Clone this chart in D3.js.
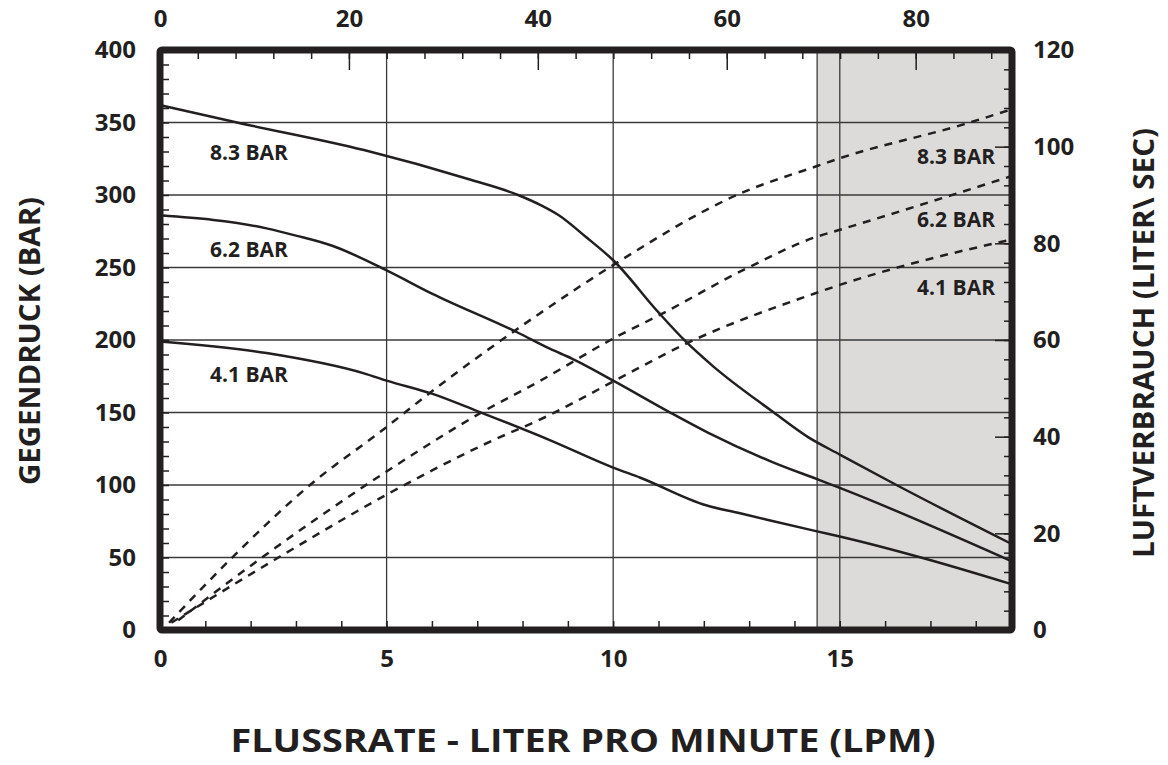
<!DOCTYPE html>
<html>
<head>
<meta charset="utf-8">
<script src="https://cdn.jsdelivr.net/npm/d3@7"></script>
<style>
  body { margin: 0; background: #fff; }
  text { font-family: "Open Sans", sans-serif; font-weight: bold; fill: #231f20; }
</style>
</head>
<body>
<script>
// Gegendruck (bar) over Flussrate (LPM)
const flow83 = [0, 1.7, 4.5, 6.8, 7.9, 8.4, 8.8, 9.4, 10, 11, 11.6, 12.2, 13.5, 14.3, 15, 16.25, 18.75];
const druck83 = [362, 350, 331, 311, 300, 293, 286, 271, 255, 219, 199, 182, 151, 133, 121, 100, 60];
const flow62 = [0, 2.35, 3.0, 3.8, 5.0, 6.0, 7.9, 8.6, 9.1, 10, 11.2, 12.1, 13.5, 14.5, 15, 18.75];
const druck62 = [286, 277, 272, 265, 248, 232, 205, 194, 187, 172, 151, 136, 116, 104, 98, 48];
const flow41 = [0, 2.35, 4.5, 5.0, 6.0, 7.0, 8.6, 10, 10.6, 12.05, 12.8, 14.5, 15, 16.85, 18.75];
const druck41 = [199, 191, 177, 172, 163, 151, 131, 112, 105, 86, 80.5, 68, 64.5, 49.5, 32];

// Luftverbrauch over Flussrate (LPM)
const airFlow83 = [0.2, 1.54, 3.31, 5.0, 5.74, 8.38, 10, 12.8, 14.5, 15, 17.8, 18.75];
const luft83 = [1.5, 14.5, 30, 42, 47.5, 65.5, 75.5, 90.3, 96, 97.6, 104.8, 107.6];
const airFlow62 = [0.4, 2.28, 5.0, 7.13, 8.38, 10, 11.03, 12.94, 14.5, 15, 18.75];
const luft62 = [2, 15.2, 32.8, 45.2, 51.5, 60.3, 65.2, 74.8, 81.4, 82.8, 93.8];
const airFlow41 = [0.25, 2.65, 5.0, 7.13, 8.6, 10, 11.62, 14.5, 15, 16.47, 18.75];
const luft41 = [1.5, 15.2, 28, 38.3, 44.5, 51.4, 59.3, 69.8, 71.4, 75.5, 80.7];

const seriesNames = ["8.3 BAR", "6.2 BAR", "4.1 BAR"];
const bottomTicks = [0, 5, 10, 15];
const topTicks = [0, 20, 40, 60, 80];
const leftTicks = [0, 50, 100, 150, 200, 250, 300, 350, 400];
const rightTicks = [0, 20, 40, 60, 80, 100, 120];
const shadeFrom = 14.5;

// plot frame
const pL = 160, pR = 1012, pT = 50, pB = 630;

const x = d3.scaleLinear().domain([0, 18.8]).range([pL, pR]);
const xTop = d3.scaleLinear().domain([0, 90.2]).range([pL, pR]);
const yL = d3.scaleLinear().domain([0, 400]).range([pB, pT]);
const yR = d3.scaleLinear().domain([0, 120]).range([pB, pT]);

const ink = "#231f20";

const svg = d3.select("body").append("svg")
    .attr("width", 1168)
    .attr("height", 765);

// shaded region
svg.append("rect")
    .attr("x", x(shadeFrom)).attr("y", pT)
    .attr("width", pR - x(shadeFrom)).attr("height", pB - pT)
    .attr("fill", "#dcdbda");

// grid
const grid = svg.append("g").attr("stroke", "#3a3a3a").attr("stroke-width", 1.3);
grid.selectAll(".h").data(leftTicks.filter(d => d > 0 && d < 400)).enter().append("line")
    .attr("x1", pL).attr("x2", pR)
    .attr("y1", d => yL(d)).attr("y2", d => yL(d));
grid.selectAll(".v").data([5, 10, 15, shadeFrom]).enter().append("line")
    .attr("x1", d => x(d)).attr("x2", d => x(d))
    .attr("y1", pT).attr("y2", pB);

// axes (ticks point inwards)
function styleAxis(g) {
  g.select(".domain").remove();
  g.selectAll(".tick line").attr("stroke", ink).attr("stroke-width", 1.5);
  g.selectAll(".tick text").attr("fill", ink).style("font-size", "24px");
}

svg.append("g").attr("transform", `translate(0,${pB})`)
    .call(d3.axisBottom(x).tickValues(d3.range(1, 19)).tickSize(-9).tickFormat(""))
    .call(styleAxis);
svg.append("g").attr("transform", `translate(0,${pB})`)
    .call(d3.axisBottom(x).tickValues(bottomTicks).tickSize(0).tickPadding(20))
    .call(styleAxis);

svg.append("g").attr("transform", `translate(0,${pT})`)
    .call(d3.axisTop(xTop).tickValues(d3.range(4, 90, 4)).tickSize(-9).tickFormat(""))
    .call(styleAxis);
svg.append("g").attr("transform", `translate(0,${pT})`)
    .call(d3.axisTop(xTop).tickValues(topTicks.filter(d => d > 0)).tickSize(-20).tickFormat(""))
    .call(styleAxis);
svg.append("g").attr("transform", `translate(0,${pT})`)
    .call(d3.axisTop(xTop).tickValues(topTicks).tickSize(0).tickPadding(23))
    .call(styleAxis);

svg.append("g").attr("transform", `translate(${pL},0)`)
    .call(d3.axisLeft(yL).tickValues(d3.range(10, 400, 10)).tickSize(-9).tickFormat(""))
    .call(styleAxis);
svg.append("g").attr("transform", `translate(${pL},0)`)
    .call(d3.axisLeft(yL).tickValues(leftTicks).tickSize(0).tickPadding(24))
    .call(styleAxis);

svg.append("g").attr("transform", `translate(${pR},0)`)
    .call(d3.axisRight(yR).tickValues(d3.range(4, 120, 4)).tickSize(-8).tickFormat(""))
    .call(styleAxis);
svg.append("g").attr("transform", `translate(${pR},0)`)
    .call(d3.axisRight(yR).tickValues(rightTicks.filter(d => d > 0 && d < 120)).tickSize(-17).tickFormat(""))
    .call(styleAxis);
svg.append("g").attr("transform", `translate(${pR},0)`)
    .call(d3.axisRight(yR).tickValues(rightTicks).tickSize(0).tickPadding(21))
    .call(styleAxis);

// curves
const pressure = [[flow83, druck83], [flow62, druck62], [flow41, druck41]];
const air = [[airFlow83, luft83], [airFlow62, luft62], [airFlow41, luft41]];

const lineL = d3.line().x(d => x(d[0])).y(d => yL(d[1])).curve(d3.curveMonotoneX);
const lineR = d3.line().x(d => x(d[0])).y(d => yR(d[1])).curve(d3.curveMonotoneX);

svg.append("g").selectAll("path").data(pressure).enter().append("path")
    .attr("d", s => lineL(d3.zip(s[0], s[1])))
    .attr("fill", "none").attr("stroke", ink).attr("stroke-width", 2.5);

svg.append("g").selectAll("path").data(air).enter().append("path")
    .attr("d", s => lineR(d3.zip(s[0], s[1])))
    .attr("fill", "none").attr("stroke", ink).attr("stroke-width", 2.5)
    .attr("stroke-dasharray", "8,7");

// series labels
const labelsLeft = [330, 263, 176.5];  // bar values where the left labels sit
const labelsRight = [98, 85.1, 71];     // right axis values where the right labels sit
svg.append("g").selectAll("text").data(seriesNames).enter().append("text")
    .attr("x", 210).attr("y", (d, i) => yL(labelsLeft[i]))
    .attr("dominant-baseline", "central")
    .style("font-size", "21px").text(d => d);
svg.append("g").selectAll("text").data(seriesNames).enter().append("text")
    .attr("x", 995).attr("y", (d, i) => yR(labelsRight[i]))
    .attr("text-anchor", "end").attr("dominant-baseline", "central")
    .style("font-size", "21px").text(d => d);

// frame
svg.append("rect")
    .attr("x", pL).attr("y", pT)
    .attr("width", pR - pL).attr("height", pB - pT)
    .attr("fill", "none").attr("stroke", ink).attr("stroke-width", 7)
    .attr("rx", 2);

// titles
svg.append("text")
    .attr("transform", "translate(40,341) rotate(-90)")
    .attr("text-anchor", "middle")
    .attr("textLength", 288).attr("lengthAdjust", "spacingAndGlyphs")
    .style("font-size", "29px")
    .text("GEGENDRUCK  (BAR)");
svg.append("text")
    .attr("transform", "translate(1154,343) rotate(-90)")
    .attr("text-anchor", "middle")
    .attr("textLength", 430).attr("lengthAdjust", "spacingAndGlyphs")
    .style("font-size", "29px")
    .text("LUFTVERBRAUCH  (LITER\\ SEC)");
svg.append("text")
    .attr("x", 583).attr("y", 752)
    .attr("text-anchor", "middle")
    .attr("textLength", 705).attr("lengthAdjust", "spacingAndGlyphs")
    .style("font-size", "33px")
    .text("FLUSSRATE - LITER PRO MINUTE (LPM)");
</script>
</body>
</html>
